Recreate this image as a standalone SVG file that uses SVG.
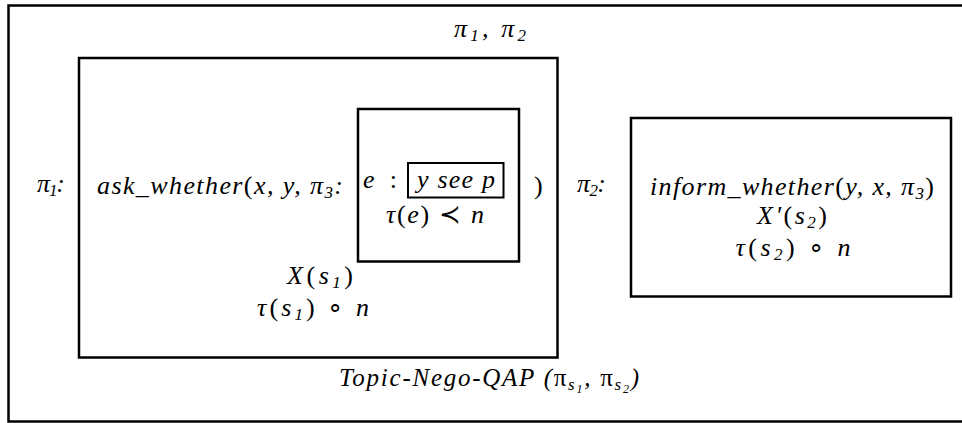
<svg xmlns="http://www.w3.org/2000/svg" width="962" height="423" viewBox="0 0 962 423">
<style>
.box{fill:none;stroke:#000;stroke-width:2.5}
.thin{fill:none;stroke:#000;stroke-width:2}
.c{text-anchor:middle}
.up{font-style:normal}
.sub{font-size:17px}
.ss{font-size:12px}
</style>
<rect width="962" height="423" fill="#fff"/>
<g font-family="'Liberation Serif', serif" font-style="italic" font-size="26" fill="#000">
<g id="frame">
<rect class="box" x="8.5" y="5.5" width="980" height="416"/>
<text class="c" x="490" y="37" textLength="72" lengthAdjust="spacing">π<tspan class="sub" dy="4">1</tspan><tspan dy="-4">, π</tspan><tspan class="sub" dy="4">2</tspan></text>
<text x="339" y="386" font-size="25" textLength="300" lengthAdjust="spacing">Topic-Nego-QAP (<tspan class="up">π</tspan><tspan class="sub" dy="4">s</tspan><tspan class="ss" dy="3">1</tspan><tspan dy="-7">, </tspan><tspan class="up">π</tspan><tspan class="sub" dy="4">s</tspan><tspan class="ss" dy="3">2</tspan><tspan dy="-7">)</tspan></text>
</g>
<g id="pi1-label">
<text x="37" y="192" textLength="28" lengthAdjust="spacing">π<tspan class="sub" dy="4">1</tspan><tspan dy="-4">:</tspan></text>
</g>
<g id="ask-box">
<rect class="box" x="79" y="58" width="478.5" height="299.5"/>
<text x="97" y="194" textLength="246" lengthAdjust="spacing">ask_whether<tspan class="up">(</tspan>x, y, π<tspan class="sub" dy="4">3</tspan><tspan dy="-4">:</tspan></text>
<text x="534" y="194" class="up">)</text>
<text class="c" x="320" y="284" textLength="66" lengthAdjust="spacing">X<tspan class="up">(</tspan>s<tspan class="sub" dy="4">1</tspan><tspan class="up" dy="-4">)</tspan></text>
<text class="c" x="313" y="316" textLength="112" lengthAdjust="spacing">τ<tspan class="up">(</tspan>s<tspan class="sub" dy="4">1</tspan><tspan class="up" dy="-4">) ∘ </tspan>n</text>
</g>
<g id="event-box">
<rect class="box" x="358" y="109" width="161" height="152.5"/>
<text x="363" y="188" textLength="34" lengthAdjust="spacing">e <tspan class="up">:</tspan></text>
<rect class="thin" x="408" y="163" width="95.5" height="34.5"/>
<text class="c" x="456" y="188" textLength="78" lengthAdjust="spacing">y see p</text>
<text class="c" x="435" y="223" textLength="98" lengthAdjust="spacing">τ<tspan class="up">(</tspan>e<tspan class="up">) ≺ </tspan>n</text>
</g>
<g id="pi2-label">
<text x="577" y="192" textLength="29" lengthAdjust="spacing">π<tspan class="sub" dy="4">2</tspan><tspan dy="-4">:</tspan></text>
</g>
<g id="inform-box">
<rect class="box" x="631" y="118" width="320" height="178.5"/>
<text class="c" x="792" y="195" textLength="284" lengthAdjust="spacing">inform_whether<tspan class="up">(</tspan>y, x, π<tspan class="sub" dy="4">3</tspan><tspan class="up" dy="-4">)</tspan></text>
<text class="c" x="792" y="224" textLength="70" lengthAdjust="spacing">X′<tspan class="up">(</tspan>s<tspan class="sub" dy="4">2</tspan><tspan class="up" dy="-4">)</tspan></text>
<text class="c" x="793" y="256" textLength="115" lengthAdjust="spacing">τ<tspan class="up">(</tspan>s<tspan class="sub" dy="4">2</tspan><tspan class="up" dy="-4">) ∘ </tspan>n</text>
</g>
</g>
<g id="connectors"></g>
</svg>
